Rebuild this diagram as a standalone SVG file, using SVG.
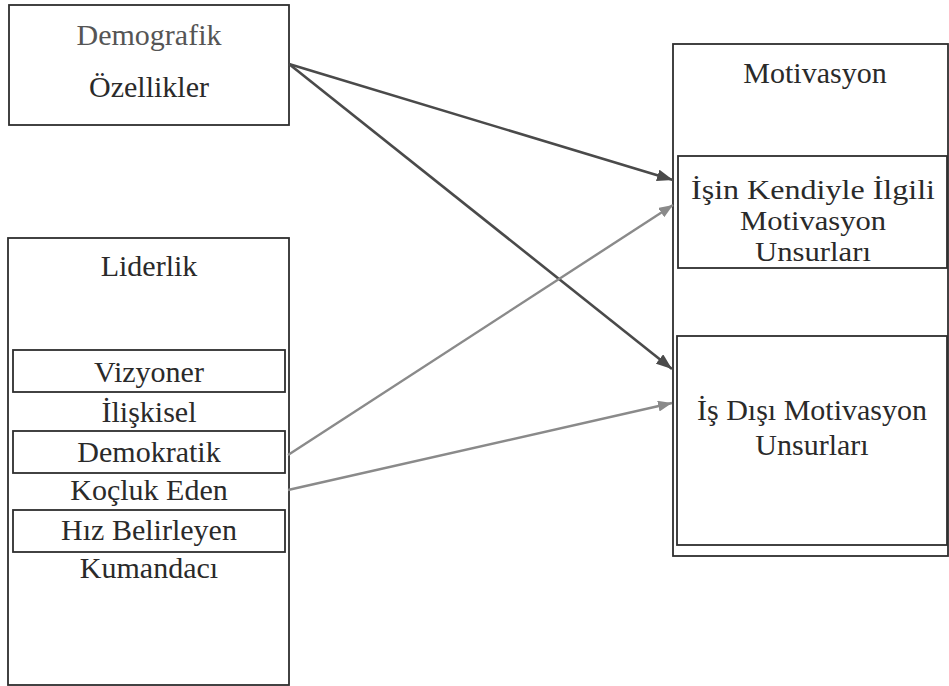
<svg xmlns="http://www.w3.org/2000/svg" width="949" height="686" viewBox="0 0 949 686">
  <defs>
    <style>
      .box { fill: #ffffff; stroke: #2e2e2e; stroke-width: 1.8; }
      .sub { fill: none; stroke: #2e2e2e; stroke-width: 1.8; }
      .lbl { font-family: "Liberation Serif", "Times New Roman", serif; font-size: 30px; fill: #2a2a2a; text-anchor: middle; }
      .lbl-sm { font-size: 28px; }
      .lbl-soft { fill: #555555; }
      .dark { stroke: #4a4a4a; stroke-width: 2.6; fill: none; }
      .light { stroke: #8a8a8a; stroke-width: 2.4; fill: none; }
    </style>
    <marker id="head-dark" viewBox="0 0 16 12" refX="16" refY="6" markerWidth="16" markerHeight="12" markerUnits="userSpaceOnUse" orient="auto">
      <path d="M0,0 L16,6 L0,12 Z" fill="#4a4a4a"/>
    </marker>
    <marker id="head-light" viewBox="0 0 14 11" refX="14" refY="5.5" markerWidth="14" markerHeight="11" markerUnits="userSpaceOnUse" orient="auto">
      <path d="M0,0 L14,5.5 L0,11 Z" fill="#8a8a8a"/>
    </marker>
  </defs>

  <rect width="949" height="686" fill="#ffffff"/>

  <!-- Demographic features -->
  <g id="demografik">
    <rect class="box" x="9" y="5" width="280" height="120"/>
    <text class="lbl lbl-soft" x="149" y="45">Demografik</text>
    <text class="lbl" x="149" y="97">Özellikler</text>
  </g>

  <!-- Leadership styles -->
  <g id="liderlik">
    <rect class="box" x="8" y="238" width="281" height="447"/>
    <text class="lbl" x="149" y="276">Liderlik</text>
    <rect class="sub" x="13" y="350" width="272" height="42"/>
    <text class="lbl" x="149" y="382">Vizyoner</text>
    <text class="lbl" x="149" y="422">İlişkisel</text>
    <rect class="sub" x="13" y="431" width="272" height="42"/>
    <text class="lbl" x="149" y="462">Demokratik</text>
    <text class="lbl" x="149" y="500">Koçluk Eden</text>
    <rect class="sub" x="13" y="510" width="272" height="42"/>
    <text class="lbl" x="149" y="540">Hız Belirleyen</text>
    <text class="lbl" x="149" y="578">Kumandacı</text>
  </g>

  <!-- Motivation -->
  <g id="motivasyon">
    <rect class="box" x="673" y="44" width="275" height="512"/>
    <text class="lbl" x="815" y="83">Motivasyon</text>
  </g>

  <g id="is-kendiyle">
    <rect class="sub" x="678" y="156" width="269" height="112"/>
    <text class="lbl lbl-sm" x="813" y="199" textLength="244" lengthAdjust="spacingAndGlyphs">İşin Kendiyle İlgili</text>
    <text class="lbl lbl-sm" x="813" y="230" textLength="146" lengthAdjust="spacingAndGlyphs">Motivasyon</text>
    <text class="lbl lbl-sm" x="813" y="261" textLength="116" lengthAdjust="spacingAndGlyphs">Unsurları</text>
  </g>

  <g id="is-disi">
    <rect class="sub" x="677" y="336" width="270" height="209"/>
    <text class="lbl" x="812" y="420">İş Dışı Motivasyon</text>
    <text class="lbl" x="812" y="455">Unsurları</text>
  </g>

  <!-- Connectors -->
  <g id="connectors">
    <line class="dark" x1="289" y1="64" x2="673" y2="180" marker-end="url(#head-dark)"/>
    <line class="dark" x1="289" y1="64" x2="672" y2="369" marker-end="url(#head-dark)"/>
    <line class="light" x1="288" y1="455" x2="673" y2="205" marker-end="url(#head-light)"/>
    <line class="light" x1="288" y1="490" x2="672" y2="403" marker-end="url(#head-light)"/>
  </g>
</svg>
